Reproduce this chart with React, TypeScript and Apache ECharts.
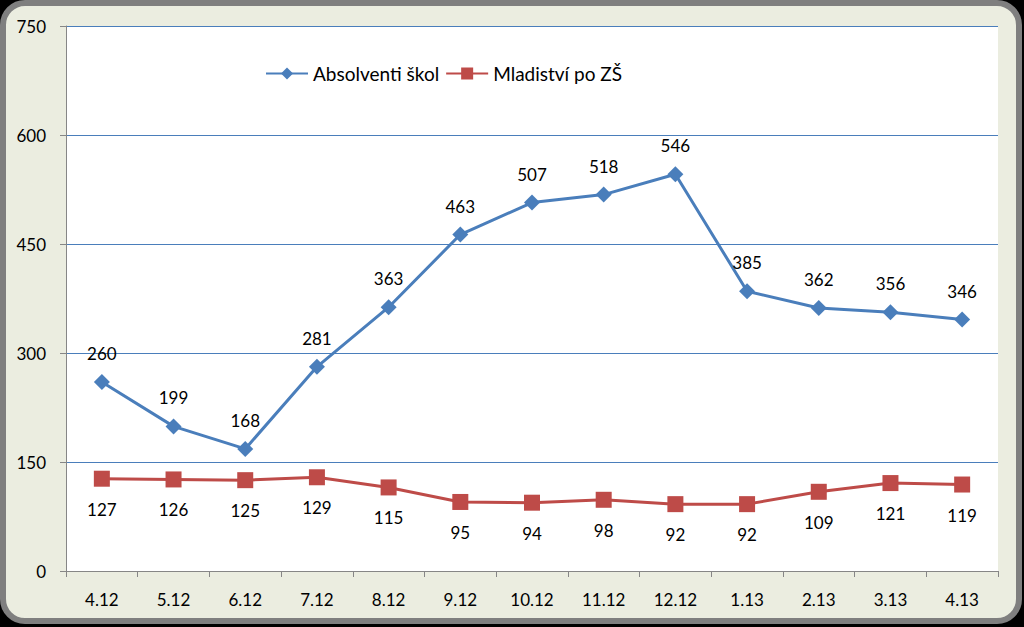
import React, { useEffect, useRef } from "react";
import * as echarts from "echarts";

const categories = ["4.12", "5.12", "6.12", "7.12", "8.12", "9.12", "10.12", "11.12", "12.12", "1.13", "2.13", "3.13", "4.13"];
const absolventi = [260, 199, 168, 281, 363, 463, 507, 518, 546, 385, 362, 356, 346];
const mladistvi = [127, 126, 125, 129, 115, 95, 94, 98, 92, 92, 109, 121, 119];
const seriesNames = ["Absolventi škol", "Mladiství po ZŠ"];

const FONT = "Lato, 'Noto Sans', sans-serif";

export default function App() {
  const ref = useRef<HTMLDivElement>(null);
  useEffect(() => {
    if (!ref.current) return;
    const chart = echarts.init(ref.current, null, { renderer: "svg" });
    chart.setOption({
      animation: false,
      backgroundColor: "#000000",
      graphic: [
        {
          type: "rect",
          z: -10,
          shape: { x: 3, y: 3, width: 1016, height: 618, r: 22 },
          style: { fill: "#EBEDE0", stroke: "#7F7F7F", lineWidth: 6 },
        },
      ],
      textStyle: { fontFamily: FONT },
      legend: {
        left: 260,
        top: 59,
        itemWidth: 42,
        itemHeight: 15,
        itemGap: 6,
        textStyle: { fontSize: 19, color: "#000", fontFamily: FONT },
        data: seriesNames,
      },
      grid: {
        left: 66,
        right: 26,
        top: 26,
        bottom: 56,
        show: true,
        backgroundColor: "#FFFFFF",
        borderWidth: 0,
      },
      xAxis: {
        type: "category",
        data: categories,
        boundaryGap: true,
        axisLine: { lineStyle: { color: "#868686", width: 1 } },
        axisTick: { show: true, length: 6, lineStyle: { color: "#868686" } },
        axisLabel: { fontSize: 17, color: "#000", margin: 20, fontFamily: FONT },
      },
      yAxis: {
        type: "value",
        min: 0,
        max: 750,
        interval: 150,
        axisLine: { show: true, lineStyle: { color: "#868686", width: 1 } },
        axisTick: { show: true, length: 6, lineStyle: { color: "#868686" } },
        axisLabel: { fontSize: 17, color: "#000", margin: 20, fontFamily: FONT },
        splitLine: { lineStyle: { color: "#4A7EBB", width: 1 } },
      },
      series: [
        {
          name: seriesNames[0],
          type: "line",
          data: absolventi,
          symbol: "diamond",
          symbolSize: 16,
          lineStyle: { color: "#4A7EBB", width: 3 },
          itemStyle: { color: "#4A7EBB" },
          label: { show: true, position: "top", distance: 12, fontSize: 17, color: "#000", fontFamily: FONT },
        },
        {
          name: seriesNames[1],
          type: "line",
          data: mladistvi,
          symbol: "rect",
          symbolSize: 16,
          lineStyle: { color: "#BE4B48", width: 3 },
          itemStyle: { color: "#BE4B48" },
          label: { show: true, position: "bottom", distance: 14, fontSize: 17, color: "#000", fontFamily: FONT },
        },
      ],
    });
    return () => chart.dispose();
  }, []);
  return (
    <div style={{ position: "fixed", left: 0, top: 0, width: 1024, height: 627 }}>
      <div ref={ref} style={{ width: 1024, height: 627 }} />
    </div>
  );
}
